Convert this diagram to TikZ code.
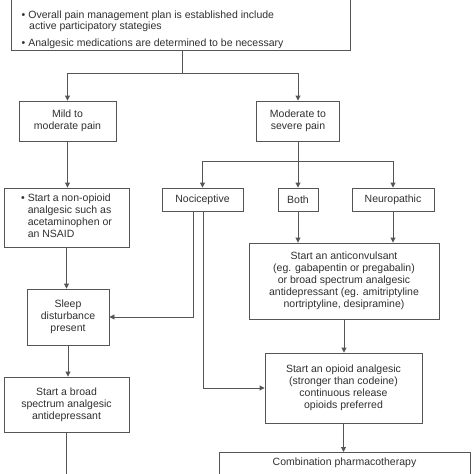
\documentclass[tikz,border=0pt]{standalone}
\usepackage{fontspec}
\setmainfont{Liberation Sans}
\usetikzlibrary{arrows.meta}
\definecolor{linegray}{HTML}{555555}
\definecolor{textgray}{HTML}{303030}
\begin{document}
\begin{tikzpicture}[x=1pt,y=-1pt,
  box/.style={draw=linegray, line width=0.9pt, fill=white, inner sep=0pt, text=textgray, font=\fontsize{10.5}{12}\selectfont, align=center},
  txt/.style={text=textgray, font=\fontsize{10.5}{12}\selectfont, inner sep=0pt},
  conn/.style={draw=linegray, line width=0.9pt},
  arr/.style={conn, -{Triangle[length=5pt,width=5pt]}}]
\useasboundingbox (0,0) rectangle (474,474);
\clip (0,0) rectangle (474,474);
\fill[white] (0,0) rectangle (474,474);

% boxes
\node[box, minimum width=339, minimum height=60, anchor=north west] (top) at (11,-10) {};
\node[txt, anchor=base west] (t1) at (21.5,18) {\textbullet\hspace{3pt}Overall pain management plan is established include};
\node[txt, anchor=base west] (t2) at (29,29) {active participatory stategies};
\node[txt, anchor=base west] (t3) at (21.5,46) {\textbullet\hspace{3pt}Analgesic medications are determined to be necessary};

\node[box, minimum width=97, minimum height=40] (mild) at (67.5,121) {Mild to\\moderate pain};
\node[box, minimum width=83, minimum height=40] (moderate) at (298,121) {Moderate to\\severe pain};
\node[box, minimum width=81, minimum height=23] (noci) at (202.5,199.5) {Nociceptive};
\node[box, minimum width=40, minimum height=23] (both) at (298,199.5) {Both};
\node[box, minimum width=82, minimum height=23] (neuro) at (393,199.5) {Neuropathic};
\node[box, minimum width=125, minimum height=59] (nonop) at (66.5,217.5)
  {\begin{tabular}{@{}l@{\hspace{3pt}}l@{}}\textbullet & Start a non-opioid\\ & analgesic such as\\ & acetaminophen or\\ & an NSAID\end{tabular}};
\node[box, minimum width=82, minimum height=56] (sleep) at (68,317) {Sleep\\disturbance\\present};
\node[box, minimum width=125, minimum height=55] (broad) at (66.5,404.5) {Start a broad\\spectrum analgesic\\antidepressant};
\node[box, minimum width=190, minimum height=76] (anti) at (344,281)
  {Start an anticonvulsant\\(eg. gabapentin or pregabalin)\\or broad spectrum analgesic\\antidepressant (eg. amitriptyline\\nortriptyline, desipramine)};
\node[box, minimum width=157, minimum height=70] (opioid) at (343.5,388)
  {Start an opioid analgesic\\(stronger than codeine)\\continuous release\\opioids preferred};
\node[box, minimum width=251, minimum height=40, anchor=north] (combo) at (344.5,452) {};
\node[txt] (combotext) at (344.5,463) {Combination pharmacotherapy};

% connectors
\coordinate (j1) at (182,73);
\draw[conn] (top.south -| j1) -- (j1);
\draw[arr] (j1) -| (mild.north);
\draw[arr] (j1) -| (moderate.north);
\coordinate (j2) at (298,161);
\draw[conn] (moderate.south) -- (j2);
\draw[arr] (j2) -| (noci.north);
\draw[arr] (j2) -- (both.north);
\draw[arr] (j2) -| (neuro.north);
\draw[arr] (mild.south) -- (mild.south |- nonop.north);
\draw[arr] (nonop.south) -- (nonop.south |- sleep.north);
\draw[arr] (sleep.south) -- (sleep.south |- broad.north);
\coordinate (bend) at (67,480);
\draw[conn] (broad.south) -- (broad.south |- bend);
\coordinate (n1) at (193,0);
\draw[arr] (noci.south -| n1) |- (sleep.east);
\coordinate (n2) at (203,0);
\draw[arr] (noci.south -| n2) |- (opioid.west);
\draw[arr] (both.south) -- (both.south |- anti.north);
\draw[arr] (neuro.south) -- (neuro.south |- anti.north);
\draw[arr] (anti.south) -- (anti.south |- opioid.north);
\draw[arr] (opioid.south) -- (opioid.south |- combo.north);
\end{tikzpicture}
\end{document}
